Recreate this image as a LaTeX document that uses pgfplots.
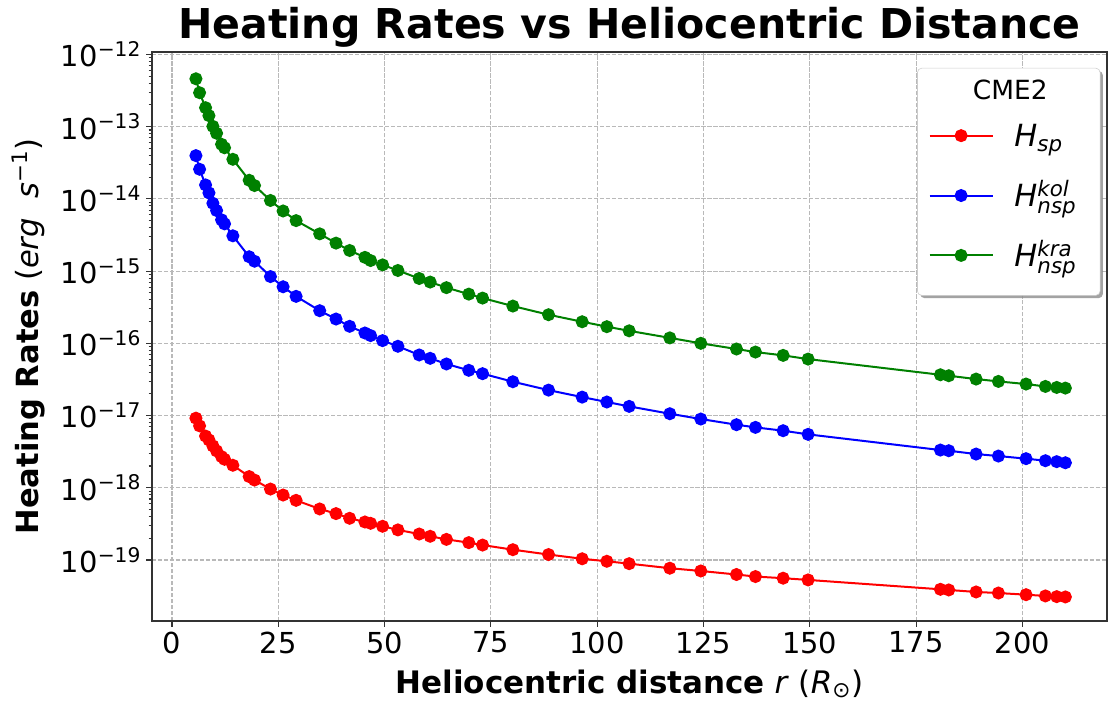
\documentclass[border=0pt]{standalone}
\usepackage{fontspec}
\setmainfont{DejaVu Sans}
\usepackage{pgfplots}
\pgfplotsset{compat=1.18}
\usepackage{pgfplotstable}
\usetikzlibrary{shadows}
\definecolor{mplgreen}{RGB}{0,128,0}
\makeatletter
\tikzset{nopreaction/.code={\let\tikz@preactions\pgfutil@empty}}
\makeatother

\pgfplotstableread{
r sp kol kra
5.63 9.2e-18 3.97e-14 4.6e-13
6.49 7.2e-18 2.57e-14 2.95e-13
7.90 5.2e-18 1.56e-14 1.83e-13
8.69 4.6e-18 1.21e-14 1.42e-13
9.62 3.8e-18 8.7e-15 1.01e-13
10.49 3.24e-18 6.9e-15 8.1e-14
11.66 2.7e-18 5.13e-15 5.7e-14
12.36 2.48e-18 4.51e-15 5.1e-14
14.32 2.05e-18 3.08e-15 3.53e-14
18.15 1.43e-18 1.58e-15 1.81e-14
19.41 1.28e-18 1.37e-15 1.53e-14
23.16 9.6e-19 8.4e-16 9.5e-15
26.13 7.94e-19 6.07e-16 6.8e-15
29.19 6.7e-19 4.47e-16 5.0e-15
34.74 5.09e-19 2.83e-16 3.28e-15
38.58 4.39e-19 2.17e-16 2.44e-15
41.78 3.78e-19 1.72e-16 1.93e-15
45.38 3.36e-19 1.39e-16 1.55e-15
46.71 3.22e-19 1.28e-16 1.40e-15
49.53 2.93e-19 1.09e-16 1.22e-15
53.13 2.61e-19 9.1e-17 1.02e-15
58.14 2.29e-19 6.9e-17 7.9e-16
60.72 2.13e-19 6.2e-17 7.05e-16
64.55 1.93e-19 5.18e-17 5.9e-16
69.8 1.74e-19 4.23e-17 4.8e-16
73.04 1.61e-19 3.80e-17 4.23e-16
80.17 1.39e-19 2.94e-17 3.28e-16
88.56 1.19e-19 2.25e-17 2.49e-16
96.47 1.04e-19 1.80e-17 1.99e-16
102.27 9.6e-20 1.54e-17 1.70e-16
107.52 8.9e-20 1.34e-17 1.49e-16
117.08 7.7e-20 1.06e-17 1.19e-16
124.37 7.05e-20 8.95e-18 1.0e-16
132.76 6.3e-20 7.47e-18 8.34e-17
137.22 5.9e-20 6.86e-18 7.57e-17
143.73 5.6e-20 6.17e-18 6.81e-17
149.6 5.3e-20 5.49e-18 6.05e-17
180.72 3.93e-20 3.33e-18 3.67e-17
182.68 3.85e-20 3.26e-18 3.56e-17
189.11 3.61e-20 2.93e-18 3.20e-17
194.36 3.49e-20 2.75e-18 2.97e-17
200.86 3.31e-20 2.53e-18 2.73e-17
205.41 3.18e-20 2.37e-18 2.53e-17
208.07 3.11e-20 2.30e-18 2.45e-17
210.11 3.08e-20 2.22e-18 2.40e-17
}\datatable

\begin{document}
\begin{tikzpicture}
\path[use as bounding box] (0,0) rectangle (799.2pt,507.6pt);
\begin{axis}[
  at={(109.44pt,60.48pt)}, anchor=south west,
  scale only axis, width=687.6pt, height=409.68pt,
  ymode=log,
  xmin=-4.7, xmax=219.9, ymin=1.43e-20, ymax=1.08e-12,
  xtick={0,25,50,75,100,125,150,175,200},
  ytick={1e-19,1e-18,1e-17,1e-16,1e-15,1e-14,1e-13,1e-12},
  yticklabels={10\textsuperscript{−19},10\textsuperscript{−18},10\textsuperscript{−17},10\textsuperscript{−16},10\textsuperscript{−15},10\textsuperscript{−14},10\textsuperscript{−13},10\textsuperscript{−12}},
  xticklabels={0,25,50,75,100,125,150,175,200},
  tick align=outside, tick pos=left,
  major tick length=4.3pt, minor tick length=2.5pt,
  every tick/.style={black!80, line width=0.8pt},
  axis line style={black!80, line width=1pt},
  grid=major,
  major grid style={gray!55, line width=0.75pt, dash pattern=on 3pt off 1.3pt},
  ticklabel style={font=\fontsize{20.8}{25}\selectfont},
  title={Heating Rates vs Heliocentric Distance},
  title style={font=\bfseries\fontsize{29.6}{34}\selectfont, at={(0.5,1)}, anchor=base, yshift=3.4pt},
  xlabel={\textbf{Heliocentric distance} \textit{r} (\textit{R}\textsubscript{⊙})},
  xlabel style={at={(axis description cs:0.5,0)}, anchor=base, yshift=-52pt, font=\fontsize{22.3}{26}\selectfont},
  ylabel={\textbf{Heating Rates} (\textit{erg}\ \ \textit{s}\textsuperscript{−1})},
  ylabel style={at={(axis description cs:-0.1189,0.5)}, anchor=base, font=\fontsize{22}{26}\selectfont},
  legend style={at={(0.993,0.972)}, anchor=north east, draw=black!20, rounded corners=3pt,
    drop shadow={shadow xshift=2pt, shadow yshift=-2pt, fill=black!45, opacity=0.8},
    fill=white, font=\fontsize{22}{26}\selectfont, row sep=13.4pt, column sep=13pt,
    inner xsep=8pt, inner ysep=3pt,
    nodes={text height=8.45pt, text depth=15.75pt}},
  legend cell align=left,
  legend image code/.code={\draw[nopreaction,#1,yshift=11.65pt,mark repeat=2,mark phase=2] plot coordinates {(0pt,0pt)(22.7pt,0pt)(45.4pt,0pt)};},
]
\addlegendimage{empty legend}
\addlegendentry{\hspace*{-3pt}\makebox[0pt][c]{\raisebox{-9.1pt}{\fontsize{19}{22}\selectfont CME2}}}
\addplot[red, line width=1.44pt, mark=*, mark size=3.96pt, mark options={solid, fill=red, draw=red}] table[x=r, y=sp] {\datatable};
\addlegendentry{$\mathit{H}_{\mathit{sp}}$\hspace*{7pt}}
\addplot[blue, line width=1.44pt, mark=*, mark size=3.96pt, mark options={solid, fill=blue, draw=blue}] table[x=r, y=kol] {\datatable};
\addlegendentry{$\mathit{H}^{\mathit{kol}}_{\mathit{nsp}}$\hspace*{7pt}}
\addplot[mplgreen, line width=1.44pt, mark=*, mark size=3.96pt, mark options={solid, fill=mplgreen, draw=mplgreen}] table[x=r, y=kra] {\datatable};
\addlegendentry{$\mathit{H}^{\mathit{kra}}_{\mathit{nsp}}$\hspace*{7pt}}
\end{axis}
\end{tikzpicture}
\end{document}
